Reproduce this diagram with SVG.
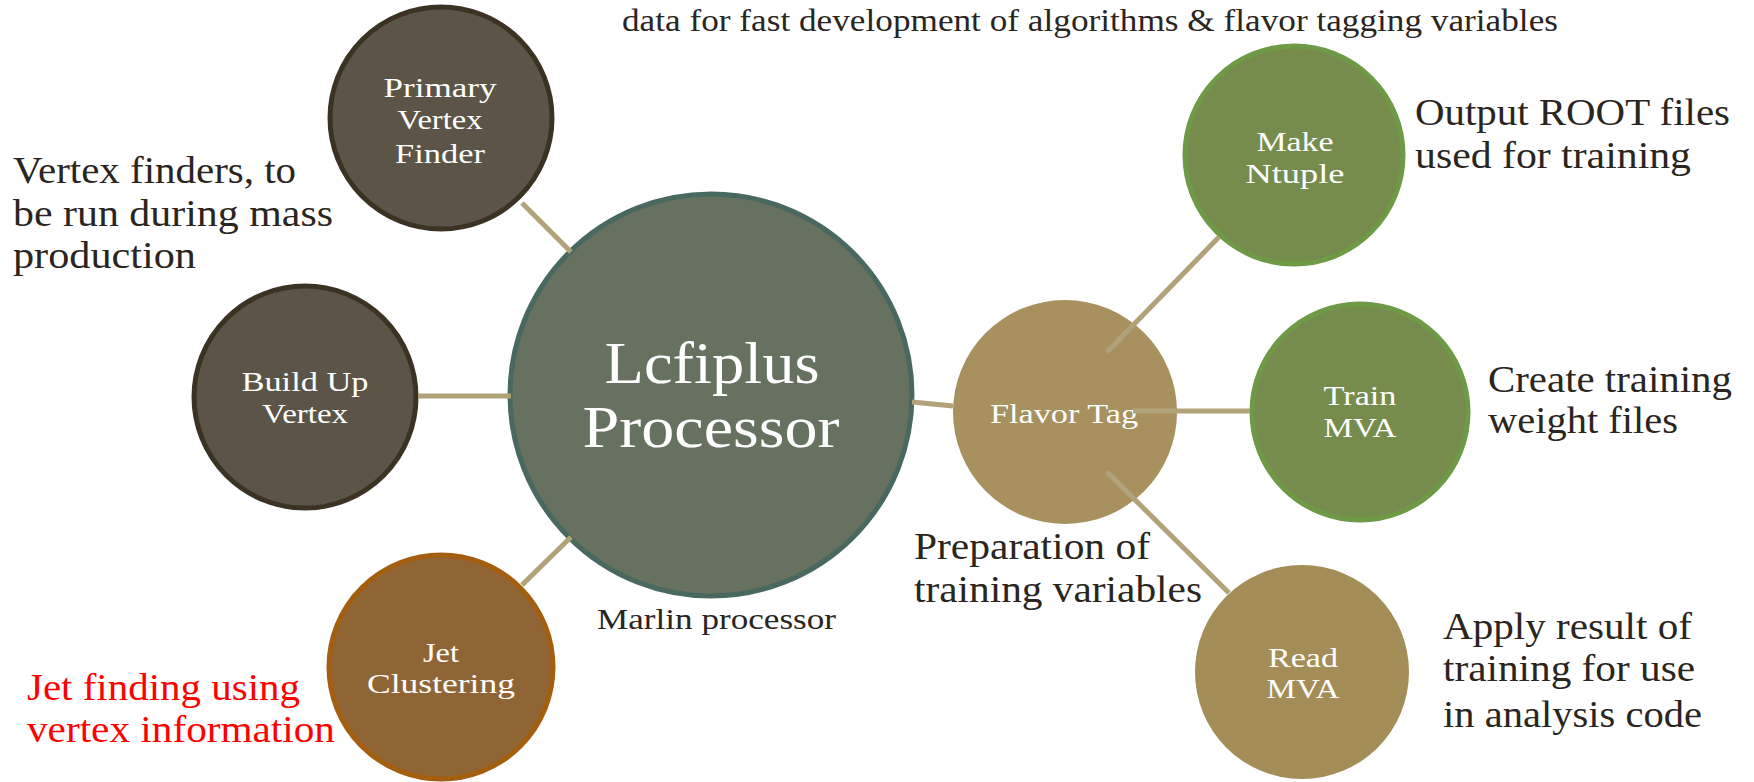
<svg xmlns="http://www.w3.org/2000/svg" width="1754" height="782" viewBox="0 0 1754 782">
<style>
.lbl{font-family:"Liberation Serif","Times New Roman",serif;fill:#2a251e;}
.big{font-size:37px;}
.red{fill:#ff0000;}
.nt{font-family:"Liberation Serif","Times New Roman",serif;fill:#ffffff;font-size:28px;text-anchor:middle;}
.nt.huge{font-size:60px;}
.conn line{stroke:#b1a27a;stroke-width:5;}
</style>
<defs>
<filter id="tex" x="-5%" y="-5%" width="110%" height="110%">
<feTurbulence type="fractalNoise" baseFrequency="0.6" numOctaves="3" seed="4" result="n"/>
<feColorMatrix in="n" type="matrix" values="0 0 0 0 0.5  0 0 0 0 0.5  0 0 0 0 0.5  0 0 0 0.35 -0.05" result="g"/>
<feComposite in="g" in2="SourceGraphic" operator="in" result="gi"/>
<feBlend in="gi" in2="SourceGraphic" mode="overlay"/>
</filter>
</defs>
<rect width="1754" height="782" fill="#ffffff"/>

<text class="lbl" x="622" y="31" font-size="31" textLength="936" lengthAdjust="spacingAndGlyphs">data for fast development of algorithms &amp; flavor tagging variables</text>

<g id="lcfiplus">
<circle cx="711" cy="395" r="201" fill="#66715f" stroke="#48695f" stroke-width="5" filter="url(#tex)"/>
<text class="nt huge" x="712" y="383" textLength="215" lengthAdjust="spacingAndGlyphs">Lcfiplus</text>
<text class="nt huge" x="711" y="447" textLength="257" lengthAdjust="spacingAndGlyphs">Processor</text>
</g>

<g id="primary">
<circle cx="441" cy="118" r="111" fill="#5b5547" stroke="#3a3324" stroke-width="5" filter="url(#tex)"/>
<text class="nt" x="440" y="97" textLength="113" lengthAdjust="spacingAndGlyphs">Primary</text>
<text class="nt" x="440" y="129" textLength="85" lengthAdjust="spacingAndGlyphs">Vertex</text>
<text class="nt" x="440" y="163" textLength="90" lengthAdjust="spacingAndGlyphs">Finder</text>
</g>

<g id="buildup">
<circle cx="305" cy="397" r="111" fill="#5b5547" stroke="#3a3324" stroke-width="5" filter="url(#tex)"/>
<text class="nt" x="305" y="391" textLength="127" lengthAdjust="spacingAndGlyphs">Build Up</text>
<text class="nt" x="305" y="423" textLength="86" lengthAdjust="spacingAndGlyphs">Vertex</text>
</g>

<g id="jet">
<circle cx="441" cy="667" r="112" fill="#8f6535" stroke="#a35f10" stroke-width="5" filter="url(#tex)"/>
<text class="nt" x="441" y="662" textLength="36" lengthAdjust="spacingAndGlyphs">Jet</text>
<text class="nt" x="441" y="693" textLength="148" lengthAdjust="spacingAndGlyphs">Clustering</text>
</g>

<g id="flavortag">
<circle cx="1065" cy="412" r="112" fill="#a8915e" filter="url(#tex)"/>
<text class="nt" x="1064" y="423" textLength="148" lengthAdjust="spacingAndGlyphs">Flavor Tag</text>
</g>

<g id="makentuple">
<circle cx="1294" cy="155" r="109" fill="#768c4e" stroke="#6e9a45" stroke-width="5" filter="url(#tex)"/>
<text class="nt" x="1295" y="151" textLength="77" lengthAdjust="spacingAndGlyphs">Make</text>
<text class="nt" x="1295" y="183" textLength="99" lengthAdjust="spacingAndGlyphs">Ntuple</text>
</g>

<g id="trainmva">
<circle cx="1360" cy="412" r="108" fill="#768c4e" stroke="#6e9a45" stroke-width="5" filter="url(#tex)"/>
<text class="nt" x="1360" y="405" textLength="73" lengthAdjust="spacingAndGlyphs">Train</text>
<text class="nt" x="1360" y="437" textLength="73" lengthAdjust="spacingAndGlyphs">MVA</text>
</g>

<g id="readmva">
<circle cx="1302" cy="672" r="107" fill="#a48d57" filter="url(#tex)"/>
<text class="nt" x="1303" y="667" textLength="70" lengthAdjust="spacingAndGlyphs">Read</text>
<text class="nt" x="1303" y="698" textLength="73" lengthAdjust="spacingAndGlyphs">MVA</text>
</g>

<g id="connectors" class="conn">
<line x1="522" y1="203" x2="571" y2="252"/>
<line x1="418" y1="396" x2="511" y2="396"/>
<line x1="522" y1="585" x2="571" y2="537"/>
<line x1="912" y1="402" x2="953" y2="406"/>
<line x1="1107" y1="352" x2="1219" y2="237"/>
<line x1="1133" y1="411" x2="1250" y2="411"/>
<line x1="1107" y1="472" x2="1229" y2="593"/>
</g>

<g id="notes">
<text class="lbl big" x="13" y="183" textLength="283" lengthAdjust="spacingAndGlyphs">Vertex finders, to</text>
<text class="lbl big" x="13" y="226" textLength="320" lengthAdjust="spacingAndGlyphs">be run during mass</text>
<text class="lbl big" x="13" y="268" textLength="183" lengthAdjust="spacingAndGlyphs">production</text>
<text class="lbl big red" x="27" y="700" textLength="273" lengthAdjust="spacingAndGlyphs">Jet finding using</text>
<text class="lbl big red" x="27" y="742" textLength="308" lengthAdjust="spacingAndGlyphs">vertex information</text>
<text class="lbl" x="597" y="629" font-size="29" textLength="239" lengthAdjust="spacingAndGlyphs">Marlin processor</text>
<text class="lbl big" x="914" y="559" textLength="236" lengthAdjust="spacingAndGlyphs">Preparation of</text>
<text class="lbl big" x="914" y="602" textLength="288" lengthAdjust="spacingAndGlyphs">training variables</text>
<text class="lbl big" x="1415" y="125" textLength="315" lengthAdjust="spacingAndGlyphs">Output ROOT files</text>
<text class="lbl big" x="1415" y="168" textLength="276" lengthAdjust="spacingAndGlyphs">used for training</text>
<text class="lbl big" x="1488" y="392" textLength="244" lengthAdjust="spacingAndGlyphs">Create training</text>
<text class="lbl big" x="1488" y="433" textLength="190" lengthAdjust="spacingAndGlyphs">weight files</text>
<text class="lbl big" x="1443" y="639" textLength="249" lengthAdjust="spacingAndGlyphs">Apply result of</text>
<text class="lbl big" x="1443" y="681" textLength="252" lengthAdjust="spacingAndGlyphs">training for use</text>
<text class="lbl big" x="1443" y="727" textLength="259" lengthAdjust="spacingAndGlyphs">in analysis code</text>
</g>
</svg>
